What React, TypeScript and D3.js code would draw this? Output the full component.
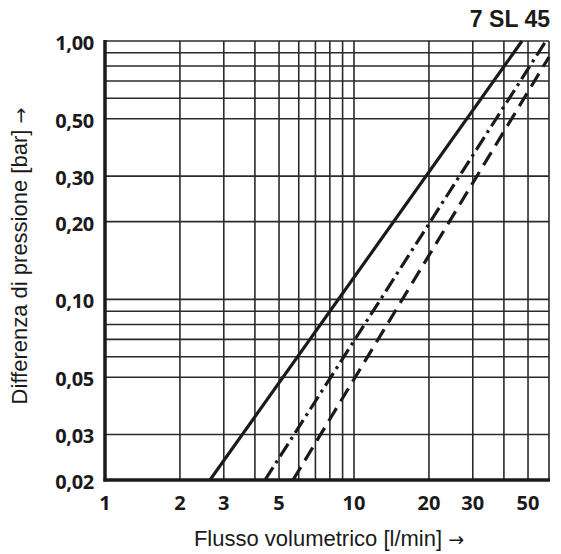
import React, { useEffect, useRef } from 'react';
import * as d3 from 'd3';

// grid / tick values
const xTicks = [1, 2, 3, 5, 10, 20, 30, 50];
const xGrid = [2, 3, 4, 5, 6, 7, 8, 9, 10, 20, 30, 40, 50];
const yTicks = [1.0, 0.5, 0.3, 0.2, 0.1, 0.05, 0.03, 0.02];
const yGrid = [0.03, 0.05, 0.06, 0.07, 0.08, 0.09, 0.1, 0.2, 0.3, 0.5, 0.6, 0.7, 0.8, 0.9, 1.0];

// curves: flow [l/min] vs pressure drop [bar], straight on log-log
const solidFlow = [2.64, 47.3];
const solidDp = [0.02, 1.0];
const dashDotFlow = [4.39, 59];
const dashDotDp = [0.02, 1.0];
const dashedFlow = [5.69, 60.7];
const dashedDp = [0.02, 0.867];

const W = 561;
const H = 554;

export default function App() {
  const svgRef = useRef<SVGSVGElement>(null);

  useEffect(() => {
    if (!svgRef.current) return;
    const svg = d3.select(svgRef.current);
    svg.selectAll('*').remove();

    const margin = { top: 41, right: 12, bottom: 74, left: 105 };
    const x = d3.scaleLog().domain([1, 60.7]).range([margin.left, W - margin.right]);
    const y = d3.scaleLog().domain([0.02, 1]).range([H - margin.bottom, margin.top]);

    const [x0, x1] = x.range();
    const [y0, y1] = y.range();

    const grid = svg.append('g').attr('stroke', '#2a2a2a').attr('stroke-width', 1.6);
    grid.selectAll('.vx')
      .data(xGrid)
      .enter()
      .append('line')
      .attr('x1', d => x(d))
      .attr('x2', d => x(d))
      .attr('y1', y1)
      .attr('y2', y0);
    grid.selectAll('.hy')
      .data(yGrid)
      .enter()
      .append('line')
      .attr('x1', x0)
      .attr('x2', x1)
      .attr('y1', d => y(d))
      .attr('y2', d => y(d));
    // right border
    grid.append('line').attr('x1', x1).attr('x2', x1).attr('y1', y1).attr('y2', y0);

    // curves
    const line = d3.line<[number, number]>()
      .x(d => x(d[0]))
      .y(d => y(d[1]));

    const clip = svg.append('defs').append('clipPath').attr('id', 'plot-clip');
    clip.append('rect').attr('x', x0).attr('y', y1 - 2).attr('width', x1 - x0 + 2).attr('height', y0 - y1 + 2);

    const curves = [
      { flow: solidFlow, dp: solidDp, dash: null },
      { flow: dashDotFlow, dp: dashDotDp, dash: '15,5,3,5' },
      { flow: dashedFlow, dp: dashedDp, dash: '15,8' },
    ];
    const cg = svg.append('g').attr('clip-path', 'url(#plot-clip)');
    curves.forEach(c => {
      cg.append('path')
        .datum(c.flow.map((f, i) => [f, c.dp[i]] as [number, number]))
        .attr('d', line)
        .attr('fill', 'none')
        .attr('stroke', '#1a1a1a')
        .attr('stroke-width', 3.2)
        .attr('stroke-dasharray', c.dash);
    });

    // main axes (thick left and bottom)
    svg.append('line')
      .attr('x1', x0).attr('x2', x0).attr('y1', y1 - 1).attr('y2', y0 + 1.5)
      .attr('stroke', '#1a1a1a').attr('stroke-width', 3.5);
    svg.append('line')
      .attr('x1', x0 - 1.5).attr('x2', x1 + 1).attr('y1', y0).attr('y2', y0)
      .attr('stroke', '#1a1a1a').attr('stroke-width', 3.5);

    const fmt = (v: number) => v.toFixed(2).replace('.', ',');

    svg.append('g')
      .selectAll('text')
      .data(yTicks)
      .enter()
      .append('text')
      .attr('x', x0 - 11)
      .attr('y', d => y(d) + 9)
      .attr('text-anchor', 'end')
      .attr('font-family', '"Open Sans", sans-serif')
      .attr('font-weight', 'bold')
      .attr('font-size', 20)
      .attr('letter-spacing', -0.3)
      .attr('fill', '#1a1a1a')
      .text(d => fmt(d));

    svg.append('g')
      .selectAll('text')
      .data(xTicks)
      .enter()
      .append('text')
      .attr('x', d => x(d))
      .attr('y', y0 + 30)
      .attr('text-anchor', 'middle')
      .attr('font-family', '"Open Sans", sans-serif')
      .attr('font-weight', 'bold')
      .attr('font-size', 20)
      .attr('fill', '#1a1a1a')
      .text(d => String(d));

    // axis titles (arrow drawn in DejaVu, it has a bigger glyph)
    const xt = svg.append('text')
      .attr('x', 329)
      .attr('y', 546)
      .attr('text-anchor', 'middle')
      .attr('font-family', '"Liberation Sans", Arial, sans-serif')
      .attr('font-size', 22)
      .attr('fill', '#1a1a1a');
    xt.append('tspan').text('Flusso volumetrico [l/min] ');
    xt.append('tspan').attr('font-family', '"DejaVu Sans", sans-serif').attr('font-size', 19).text('→');

    const yt = svg.append('text')
      .attr('transform', 'translate(27,256) rotate(-90)')
      .attr('text-anchor', 'middle')
      .attr('font-family', '"Liberation Sans", Arial, sans-serif')
      .attr('font-size', 22)
      .attr('fill', '#1a1a1a');
    yt.append('tspan').text('Differenza di pressione [bar] ');
    yt.append('tspan').attr('font-family', '"DejaVu Sans", sans-serif').attr('font-size', 19).text('→');

    svg.append('text')
      .attr('x', 550)
      .attr('y', 27)
      .attr('text-anchor', 'end')
      .attr('font-family', '"Liberation Sans", Arial, sans-serif')
      .attr('font-weight', 'bold')
      .attr('font-size', 23)
      .attr('fill', '#1a1a1a')
      .text('7 SL 45');
  }, []);

  return (
    <svg
      ref={svgRef}
      width={W}
      height={H}
      style={{ position: 'absolute', left: 0, top: 0, background: '#fff' }}
    />
  );
}
